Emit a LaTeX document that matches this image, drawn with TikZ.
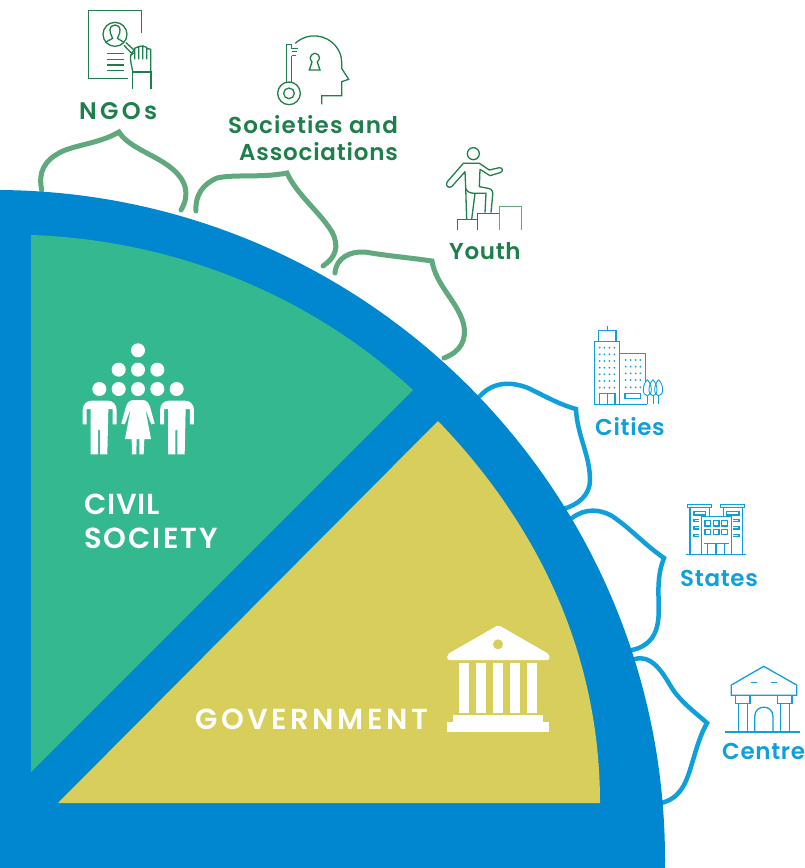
\documentclass[tikz,border=0pt]{standalone}
\usepackage{fontspec}
\setmainfont{Poppins}
\newfontfamily\lbl[LetterSpace=3,BoldFont={Poppins SemiBold}]{Poppins}
\newfontfamily\lblw[LetterSpace=3]{Poppins SemiBold}
\definecolor{bigblue}{HTML}{0087CF}
\definecolor{sectgreen}{HTML}{34B88F}
\definecolor{sectyellow}{HTML}{D7CE5C}
\definecolor{darkgreen}{HTML}{1F7F4C}
\definecolor{leafgreen}{HTML}{5FA97C}
\definecolor{skyblue}{HTML}{0F9FDB}
\tikzset{
 leafg/.style={draw=leafgreen,line width=5pt,line cap=round,line join=miter},
 leafb/.style={draw=skyblue,line width=4.5pt,line cap=round,line join=miter},
 icong/.style={draw=darkgreen,line width=1.3pt,line join=miter},
 iconb/.style={draw=skyblue,line width=1.3pt,line join=miter},
 lblg/.style={anchor=base west,inner sep=0pt,text=darkgreen,font=\lbl\bfseries\fontsize{23}{23}\selectfont},
 lblb/.style={anchor=base west,inner sep=0pt,text=skyblue,font=\lbl\bfseries\fontsize{23}{23}\selectfont},
 lblw/.style={anchor=base west,inner sep=0pt,text=white,font=\lblw\fontsize{29}{29}\selectfont},
 z1/.style={shift={(60,0)},x=0.33333pt,y=-0.33333pt},
 z2/.style={shift={(430,130)},x=0.33333pt,y=-0.33333pt},
 z3/.style={shift={(660,490)},x=0.33333pt,y=-0.33333pt},
 z4/.style={shift={(70,335)},x=0.33333pt,y=-0.33333pt},
 z5/.style={shift={(430,615)},x=0.33333pt,y=-0.33333pt},
}
\begin{document}
\begin{tikzpicture}[x=1pt,y=-1pt]
\useasboundingbox (0,0) rectangle (805,868);
\fill[white] (0,0) rectangle (805,868);
% leaves
\draw[leafg] (41.7,190) .. controls (38,172) and (44,160) .. (63,151) .. controls (80,144) and (100,143) .. (119,132) .. controls (128,147) and (155,155) .. (170,167) .. controls (187,180) and (190,195) .. (181,210);
\draw[leafg] (196,211) .. controls (195,195) and (203,184) .. (217,178) .. controls (235,174) and (262,178) .. (287,173) .. controls (297,195) and (320,212) .. (332,232) .. controls (340,247) and (335,258) .. (323,266);
\draw[leafg] (335,273) .. controls (336,258) and (350,251) .. (365,252) .. controls (388,256) and (412,258) .. (432,261) .. controls (436,285) and (456,300) .. (463,322) .. controls (468,340) and (460,352) .. (444,358);
\draw[leafb] (480,396) .. controls (493,382) and (510,381) .. (528,388) .. controls (545,396) and (558,404) .. (576,409) .. controls (577,435) and (590,455) .. (590,480) .. controls (590,495) and (578,505) .. (563,509);
\draw[leafb] (572,518) .. controls (585,508) and (600,509) .. (612,516) .. controls (630,528) and (645,545) .. (664,558) .. controls (653,585) and (663,610) .. (656,630) .. controls (652,642) and (642,648) .. (632,650);
\draw[leafb] (635,659) .. controls (650,655) and (660,668) .. (670,685) .. controls (680,702) and (695,712) .. (707,723) .. controls (696,742) and (692,770) .. (684,785) .. controls (678,796) and (670,801) .. (661,803);
% quarter disc
\begin{scope}
\clip (0,0) rectangle (805,868);
\fill[bigblue] (-5,860) circle[radius=670pt];
\fill[bigblue] (0,860) rectangle (665,868);
\end{scope}
% sectors
\fill[sectgreen] (31,235) .. controls (175,240) and (310,295) .. (413,390) -- (31,772) -- cycle;
\fill[sectyellow] (438,421) .. controls (543,530) and (600,660) .. (600,803) -- (58,803) -- cycle;
% civil icon
\begin{scope}[z4]
\foreach \p in {(204,46),(146,104),(204,104),(262,104),(88,162),(146,162),(204,162),(262,162),(320,162)}
  \fill[white] \p circle[radius=7pt];
\foreach \d in {0,232}{
\fill[white,xshift=\d*0.33333pt] (38,268) -- (38,226) .. controls (38,208) and (50,197) .. (65,197) -- (113,197) .. controls (128,197) and (140,208) .. (140,226) -- (140,268) -- (128,268) -- (128,222) -- (115,222) -- (112,358) -- (90,358) -- (90,285) -- (84,285) -- (84,358) -- (62,358) -- (62,222) -- (50,222) -- (50,268) -- cycle;}
\fill[white] (188,195) -- (220,195) .. controls (232,197) and (236,205) .. (240,215) -- (254,266) -- (244,268) -- (226,222) -- (243,312) -- (223,312) -- (221,358) -- (208,358) -- (208,312) -- (200,312) -- (199,358) -- (186,358) -- (185,312) -- (165,312) -- (182,222) -- (164,268) -- (154,266) -- (168,215) .. controls (172,205) and (176,197) .. (188,195) -- cycle;
\end{scope}
% government icon
\begin{scope}[z5]
\fill[white,rounded corners=2pt] (205,30) -- (358,118) -- (358,135) -- (52,135) -- (52,118) -- cycle;
\fill[sectyellow] (204,88) circle[radius=5pt];
\foreach \c in {87,138,189,240,291}
  \fill[white] (\c,145) rectangle (\c+31,293);
\fill[white] (70,300) rectangle (340,323);
\fill[white] (52,322) rectangle (358,352);
\end{scope}
% NGO icon
\begin{scope}[z1]
\draw[icong] (244,98) -- (244,31) -- (86,31) -- (86,236) -- (205,236);
\draw[icong] (165,103) circle[radius=36];
\draw[icong] (150,90) .. controls (150,70) and (180,70) .. (180,90) .. controls (180,105) and (172,110) .. (172,115) -- (192,127);
\draw[icong] (150,90) .. controls (150,105) and (158,110) .. (158,115) -- (136,127);
\draw[icong] (198,128) -- (222,150) -- (215,160) -- (192,136);
\foreach \y in {160,178,195,212} \draw[darkgreen,line width=1.5pt] (141,\y) -- (191,\y);
\draw[icong] (218,214) .. controls (215,195) and (210,185) .. (212,165) -- (224,158) -- (224,178) (224,158) -- (224,145) -- (236,140) -- (236,178) (236,140) -- (248,138) -- (248,178) (248,138) -- (260,142) -- (260,178) (260,145) -- (272,148) -- (272,190) -- (272,214);
\draw[icong] (218,268) -- (218,216) -- (273,216) -- (273,268);
\end{scope}
% Key head icon
\begin{scope}[z1]
\draw[icong] (706,130) .. controls (725,112) and (750,106) .. (770,108) .. controls (815,112) and (845,150) .. (845,185) -- (845,205) -- (866,238) -- (845,245) -- (845,287) -- (785,287) -- (785,313);
\draw[icong] (680,250) -- (680,134) -- (695,134) -- (695,145) -- (714,145) (695,155) -- (712,155) (695,167) -- (708,167) (695,167) -- (695,250);
\draw[icong] (687,280) circle[radius=34];
\draw[icong] (687,280) circle[radius=16];
\draw[icong] (748,210) -- (756,186) .. controls (740,165) and (765,160) .. (765,160) .. controls (765,160) and (790,165) .. (772,186) -- (780,210) -- cycle;
\end{scope}
% Youth icon
\begin{scope}[z2]
\draw[icong] (130,71) circle[radius=18];
\draw[icong,line join=round] (110,268) -- (107,170) -- (105,125) -- (65,170) .. controls (55,177) and (44,165) .. (52,155) -- (100,100) -- (148,100) -- (178,120) -- (208,113) .. controls (220,113) and (220,125) .. (210,128) -- (180,137) -- (150,118) -- (148,170) -- (175,175) .. controls (188,178) and (188,185) .. (188,195) -- (183,248);
\draw[icong] (135,190) -- (125,268);
\draw[icong] (107,175) .. controls (110,185) and (120,190) .. (135,190) -- (168,190) -- (165,248);
\draw[icong] (82,300) -- (82,268) -- (143,268) -- (143,250) -- (208,250) -- (208,300) (143,250) -- (143,300);
\draw[icong,draw=leafgreen] (208,300) -- (208,230) -- (274,230) -- (274,300);
\end{scope}
% Cities icon
\begin{scope}[z2]
\draw[iconb] (493,823) -- (493,635) -- (569,635) -- (569,823);
\draw[iconb] (505,635) -- (505,601) -- (558,601) -- (558,635) (532,601) -- (532,588);
\draw[iconb] (569,670) -- (647,670) -- (647,755) (493,823) -- (650,823);
\draw[iconb] (508,823) -- (508,790) -- (555,790) -- (555,823) (532,790) -- (532,823);
\draw[iconb] (585,790) rectangle (632,805);
\foreach \x in {509,523,538,553} \foreach \y in {653,673,693,713,733,753,773}
  \fill[skyblue] (\x,\y) circle[radius=1pt];
\foreach \x in {587,602,617,631} \foreach \y in {690,710,730,750,772}
  \fill[skyblue] (\x,\y) circle[radius=1pt];
\foreach \x in {652,669,686}{
 \draw[iconb,line width=0.9pt] (\x,749) .. controls (\x+16,765) and (\x+16,797) .. (\x,797) .. controls (\x-16,797) and (\x-16,765) .. (\x,749);
 \draw[iconb,line width=0.9pt] (\x,797) -- (\x,823);}
\end{scope}
% States icon
\begin{scope}[z3]
\draw[iconb] (78,193) -- (258,193);
\draw[iconb] (83,43) rectangle (155,52);
\draw[iconb] (182,43) rectangle (254,52);
\draw[iconb] (90,193) -- (90,52) (148,52) -- (148,80) (190,52) -- (190,80) (248,52) -- (248,193);
\draw[iconb] (125,193) -- (125,80) -- (215,80) -- (215,193);
\foreach \x in {135,160,185} \foreach \y in {92,118} \draw[iconb] (\x,\y) rectangle (\x+17,\y+16);
\draw[iconb] (133,160) -- (207,160) (143,160) -- (143,193) (168,160) -- (168,193) (193,160) -- (193,193);
\draw[iconb] (102,65) rectangle (137,75);
\draw[iconb] (200,65) rectangle (237,75);
\foreach \y in {88,110,133} {\draw[iconb] (118,\y) -- (102,\y) -- (102,\y+7) -- (118,\y+7);
\draw[iconb] (220,\y) -- (237,\y) -- (237,\y+7) -- (220,\y+7);}
\end{scope}
% Centre icon
\begin{scope}[z3]
\draw[iconb] (311,529) -- (410,585) -- (410,616) -- (214,616) -- (214,585) -- cycle;
\draw[skyblue,line width=1.4pt] (274,578) -- (290,578) (334,578) -- (350,578);
\draw[iconb] (227,616) -- (227,640) -- (270,640) -- (270,616) (353,616) -- (353,640) -- (396,640) -- (396,616);
\draw[iconb] (235,640) -- (235,725) (263,640) -- (263,725) (361,640) -- (361,725) (389,640) -- (389,725);
\draw[iconb] (284,725) -- (284,680) .. controls (284,642) and (339,642) .. (339,680) -- (339,725);
\draw[skyblue,line width=2pt] (195,725) -- (420,725);
\end{scope}
% labels
\node[lblg,font=\lbl\bfseries\addfontfeature{LetterSpace=14}\fontsize{24}{24}\selectfont] (ngos) at (79,119) {NGOs};
\node[lblg,font=\lbl\bfseries\addfontfeature{LetterSpace=5}\fontsize{23}{23}\selectfont] (soc1) at (228,133) {Societies and};
\node[lblg,font=\lbl\bfseries\addfontfeature{LetterSpace=3.5}\fontsize{23}{23}\selectfont] (soc2) at (239,160) {Associations};
\node[lblg] (youth) at (449,259) {Youth};
\node[lblb] (cities) at (595,435) {Cities};
\node[lblb] (states) at (680,586) {States};
\node[lblb] (centre) at (722,759) {Centre};
\node[lblw] (civ1) at (84,514) {CIVIL};
\node[lblw,font=\lblw\addfontfeature{LetterSpace=7}\fontsize{29}{29}\selectfont] (civ2) at (84,548) {SOCIETY};
\node[lblw,font=\lblw\addfontfeature{LetterSpace=12.3}\fontsize{29}{29}\selectfont] (gov) at (195,729) {GOVERNMENT};
\end{tikzpicture}
\end{document}
